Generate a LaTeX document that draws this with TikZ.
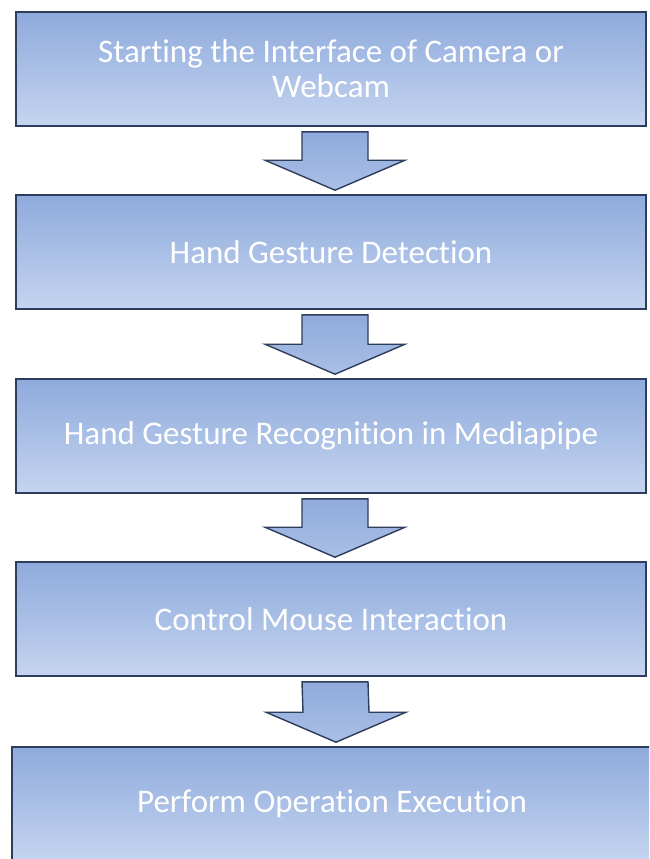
\documentclass[tikz,border=0pt]{standalone}
\usepackage{fontspec}
\setmainfont[Ligatures=NoCommon]{Carlito}
\usetikzlibrary{calc}
\definecolor{boxtop}{HTML}{8FAADC}
\definecolor{boxmid}{HTML}{A9BFE6}
\definecolor{boxbot}{HTML}{C6D5EF}
\definecolor{edge}{HTML}{2E3D5C}
\tikzset{
  stepbox/.style={rectangle, draw=edge, line width=1.6pt, minimum width=630pt, minimum height=114pt,
    top color=boxtop, bottom color=boxbot, middle color=boxmid, shading angle=0,
    text=white, font=\fontsize{33}{35}\selectfont, align=center, inner sep=0pt},
  blockarrow/.style={draw=edge, line width=1.4pt, top color=boxtop, bottom color=boxmid, line join=miter}
}
\newcommand{\blockarr}[2]{%
  \draw[blockarrow]
    ($(#1.south)+(4pt,-5pt)+(-33pt,0)$) --
    ($(#1.south)+(4pt,-5pt)+(33pt,0)$) --
    ($(#2.north)+(4pt,4pt)+(33pt,30pt)$) --
    ($(#2.north)+(4pt,4pt)+(70pt,30pt)$) --
    ($(#2.north)+(4pt,4pt)$) --
    ($(#2.north)+(4pt,4pt)+(-70pt,30pt)$) --
    ($(#2.north)+(4pt,4pt)+(-33pt,30pt)$) -- cycle;}
\begin{document}
\begin{tikzpicture}
\clip (0,0) rectangle (649pt,-859pt);
\fill[white] (0,0) rectangle (649pt,-859pt);
\node[stepbox] (b1) at (331pt,-69pt) {Starting the Interface of Camera or\\Webcam};
\node[stepbox] (b2) at (331pt,-252pt) {Hand Gesture Detection};
\node[stepbox] (b3) at (331pt,-436pt) {Hand Gesture Recognition in Mediapipe};
\node[stepbox] (b4) at (331pt,-619pt) {Control Mouse Interaction};
\node[stepbox, minimum width=640pt] (b5) at (332pt,-804pt) {Perform Operation Execution};
\blockarr{b1}{b2}
\blockarr{b2}{b3}
\blockarr{b3}{b4}
\blockarr{b4}{b5}
\end{tikzpicture}
\end{document}
